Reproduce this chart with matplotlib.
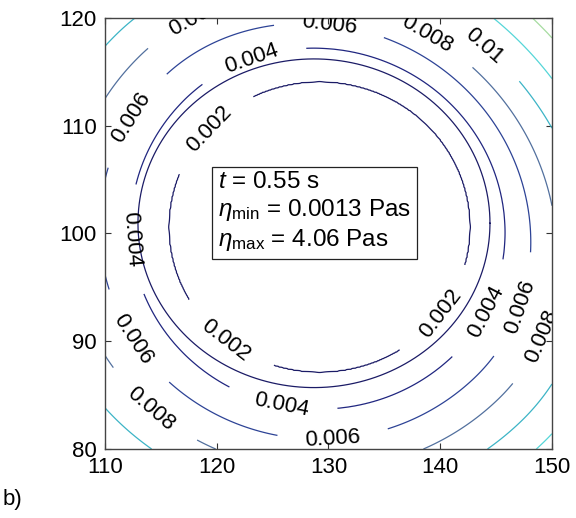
import numpy as np
import matplotlib
matplotlib.use('Agg')
import matplotlib.pyplot as plt

plt.rcParams['font.family'] = ['Liberation Sans', 'DejaVu Sans']
plt.rcParams['mathtext.fontset'] = 'custom'
plt.rcParams['mathtext.rm'] = 'Liberation Sans'
plt.rcParams['mathtext.it'] = 'Liberation Sans:italic'
plt.rcParams['mathtext.sf'] = 'Liberation Sans'

# viscosity profile vs. distance from the drop centre (um -> Pa s)
r_prof = [0.0, 13.5, 16.9, 19.7, 22.6, 25.5, 28.3, 31.0, 33.0, 40.0]
eta_prof = [0.0013, 0.002, 0.004, 0.006, 0.008, 0.010, 0.012, 0.014, 0.016, 0.03]
centre = (129.2, 100.6)
skew = 0.14  # viscosity rises faster towards the upper right

levels = [0.002, 0.004, 0.006, 0.008, 0.01, 0.012, 0.014, 0.016]
level_colors = ['#1b1b66', '#202680', '#2d4396', '#52709e', '#3cb4c6',
                '#55d6d8', '#a6dca0', '#d6e070']

# outline of the drop
ring_centre = (128.7, 100.95)
ring_radii = (15.75, 15.25)

t_val = 0.55
eta_min = 0.0013
eta_max = 4.06

x = np.linspace(110, 150, 401)
y = np.linspace(80, 120, 401)
X, Y = np.meshgrid(x, y)
dx = X - centre[0]
dy = Y - centre[1]
r = np.hypot(dx, dy)
ang = np.cos(np.arctan2(dy, dx) - np.pi / 4)
w = np.clip((r - 15.0) / 6.0, 0, 1)
r_eff = r * (1 + skew * np.clip(ang, 0, None) ** 2 * w)
eta = np.interp(r_eff, r_prof, eta_prof)

fig = plt.figure(figsize=(5.76, 5.18), dpi=100)
ax = fig.add_axes([0.1823, 0.1332, 0.776, 0.8321])

cs = ax.contour(X, Y, eta, levels=levels, colors=level_colors, linewidths=0.9)

tt = np.linspace(0, 2 * np.pi, 400)
ax.plot(ring_centre[0] + ring_radii[0] * np.cos(tt),
        ring_centre[1] + ring_radii[1] * np.sin(tt),
        color='#1b1b66', lw=0.9)

label_pos = [(119.1, 109.9), (121.0, 90.3), (139.4, 93.1),
             (123.2, 116.0), (112.2, 99.4), (125.9, 84.4), (143.7, 92.9),
             (130.1, 119.3), (111.3, 111.5), (112.0, 89.8), (130.4, 81.0), (147.1, 93.2),
             (139.1, 118.9), (114.0, 83.6), (149.3, 90.4), (118.5, 119.9),
             (144.2, 117.7)]
labels = ax.clabel(cs, fmt=lambda v: '%g' % v, manual=label_pos, inline=True,
                   inline_spacing=28, fontsize=16)
for lb in labels:
    lb.set_color('black')
    lb.set_clip_on(True)

txt = ('$t$ = %.2f s\n$\\eta_{\\rm min}$ = %.4f Pas\n$\\eta_{\\rm max}$ = %.2f Pas'
       % (t_val, eta_min, eta_max))
ax.text(120.1, 102.0, txt, fontsize=17.5, va='center', ha='left', linespacing=1.2,
        bbox=dict(boxstyle='square,pad=0.25', fc='white', ec='#222222', lw=0.9))

ax.set_xlim(110, 150)
ax.set_ylim(80, 120)
ax.set_xticks([110, 120, 130, 140, 150])
ax.set_yticks([80, 90, 100, 110, 120])
ax.tick_params(direction='in', top=True, right=True, length=4, width=0.8,
               labelsize=16, pad=6, colors='#333333', labelcolor='black')
for sp in ax.spines.values():
    sp.set_color('#444444')
    sp.set_linewidth(1.0)

fig.text(0.004, 0.025, 'b)', fontsize=16)

fig.savefig('out.png', dpi=100)
